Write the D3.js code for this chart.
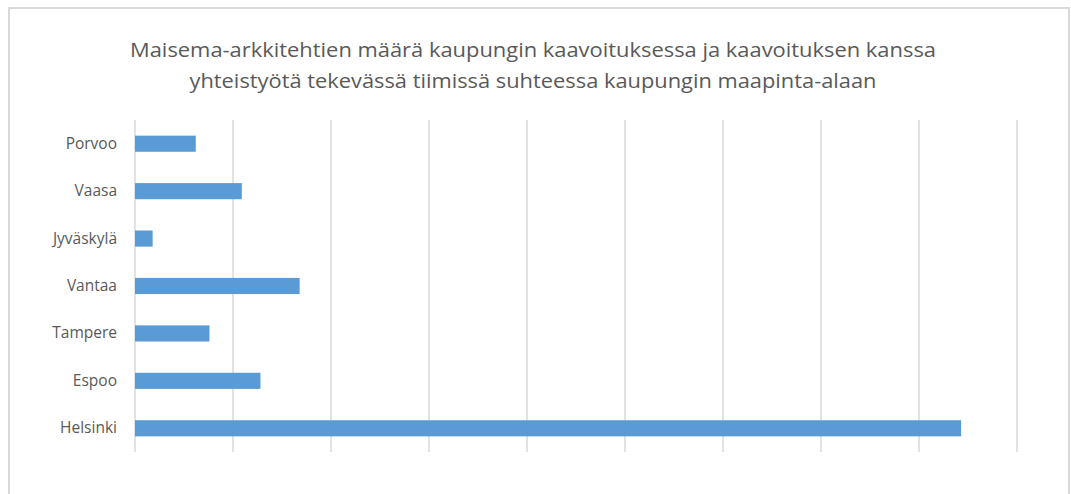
<!DOCTYPE html>
<html>
<head>
<meta charset="utf-8">
<script src="https://cdn.jsdelivr.net/npm/d3@7"></script>
<style>
  body { margin: 0; background: #fff; }
  text { font-family: 'Open Sans', sans-serif; fill: #595959; }
</style>
</head>
<body>
<script>
const cities = ['Porvoo', 'Vaasa', 'Jyväskylä', 'Vantaa', 'Tampere', 'Espoo', 'Helsinki']
const values = [0.62, 1.09, 0.18, 1.68, 0.76, 1.28, 8.43]
const gridTicks = [0, 1, 2, 3, 4, 5, 6, 7, 8, 9]
const titleLines = [
  'Maisema-arkkitehtien määrä kaupungin kaavoituksessa ja kaavoituksen kanssa',
  'yhteistyötä tekevässä tiimissä suhteessa kaupungin maapinta-alaan'
]
const titleWidths = [806, 687]

const W = 1071, H = 494
const margin = { top: 120, right: 54, bottom: 42, left: 135 }
const width = W - margin.left - margin.right
const height = H - margin.top - margin.bottom

const svg = d3.select('body').append('svg')
  .attr('width', W)
  .attr('height', H)

// chart frame
svg.append('rect')
  .attr('x', 9).attr('y', 8)
  .attr('width', 1060).attr('height', 500)
  .style('fill', 'none')
  .style('stroke', '#d9d9d9')
  .style('stroke-width', 2)

svg.append('g')
  .selectAll('text')
  .data(titleLines)
  .enter().append('text')
  .attr('x', 533)
  .attr('y', (d, i) => 57 + i * 31)
  .attr('text-anchor', 'middle')
  .attr('textLength', (d, i) => titleWidths[i])
  .attr('lengthAdjust', 'spacingAndGlyphs')
  .style('font-size', '20.5px')
  .text(d => d)

const g = svg.append('g')
  .attr('transform', `translate(${margin.left} ${margin.top})`)

const x = d3.scaleLinear()
  .domain([0, 9])
  .range([0, width])
const y = d3.scaleBand()
  .domain(cities)
  .range([0, height])
  .paddingInner(0.66)
  .paddingOuter(0.33)

g.append('g')
  .selectAll('line')
  .data(gridTicks)
  .enter().append('line')
  .attr('x1', d => x(d)).attr('x2', d => x(d))
  .attr('y1', 0).attr('y2', height)
  .style('stroke', '#d9d9d9')
  .style('stroke-width', 1.5)

g.selectAll('.bar')
  .data(values)
  .enter().append('rect')
  .attr('class', 'bar')
  .attr('x', x(0))
  .attr('y', (d, i) => y(cities[i]))
  .attr('width', d => x(d) - x(0))
  .attr('height', y.bandwidth())
  .style('fill', '#5b9bd5')

const yAxis = g.append('g')
  .call(d3.axisLeft(y).tickSize(0).tickPadding(18))
yAxis.select('.domain').remove()
yAxis.selectAll('text')
  .style('font-size', '15.5px')
  .style('font-family', "'Open Sans', sans-serif")
  .style('fill', '#595959')
</script>
</body>
</html>
